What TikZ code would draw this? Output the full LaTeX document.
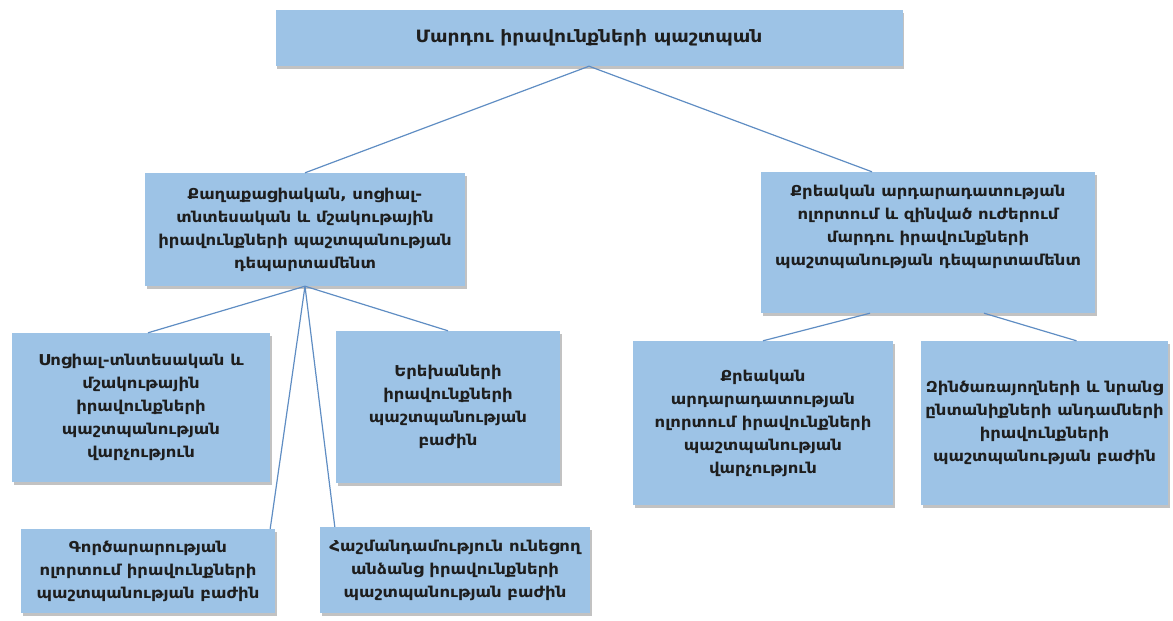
\documentclass[tikz,border=0pt]{standalone}
\usepackage{fontspec}
\setmainfont{DejaVu Sans}[FakeStretch=1.1]
\usepackage{xcolor}
\usetikzlibrary{positioning, shadows}
\definecolor{boxblue}{HTML}{9DC3E6}
\definecolor{linkblue}{HTML}{5F8DC3}
\definecolor{inkdark}{HTML}{1E1E1E}

\begin{document}
\begin{tikzpicture}[x=1pt,y=-1pt]
					\tikzstyle{box}=[rectangle, fill=boxblue, draw=none, align=center, text=inkdark, inner sep=3pt, font=\bfseries\fontsize{15}{23}\selectfont, drop shadow={shadow xshift=1.5pt, shadow yshift=-2.5pt, opacity=0.4, fill=black!60}]
					\tikzstyle{link}=[draw=linkblue, line width=1.2pt]
					\useasboundingbox (0,0) rectangle (1173,621);
					\node[box, minimum width=627pt, minimum height=56pt, font=\bfseries\fontsize{17}{20}\selectfont](head) at (589,38){Մարդու իրավունքների պաշտպան};
					\node[box, minimum width=320pt, minimum height=113pt](civil) at (305,229.5){Քաղաքացիական, սոցիալ-\\տնտեսական և մշակութային\\իրավունքների  պաշտպանության\\դեպարտամենտ};
					\node[box, minimum width=334pt, minimum height=141pt, text depth=34pt](crimdep) at (928,242.5){Քրեական արդարադատության\\ոլորտում և զինված ուժերում\\մարդու իրավունքների\\պաշտպանության դեպարտամենտ};
					\node[box, minimum width=258pt, minimum height=149pt](social) at (141,407.5){Սոցիալ-տնտեսական և\\մշակութային\\իրավունքների\\պաշտպանության\\վարչություն};
					\node[box, minimum width=224pt, minimum height=152pt](children) at (448,407){Երեխաների\\իրավունքների\\պաշտպանության\\բաժին};
					\node[box, minimum width=254pt, minimum height=84pt](business) at (148,571){Գործարարության\\ոլորտում  իրավունքների\\պաշտպանության բաժին};
					\node[box, minimum width=270pt, minimum height=86pt](disabled) at (455,570){Հաշմանդամություն ունեցող\\անձանց իրավունքների\\պաշտպանության բաժին};
					\node[box, minimum width=260pt, minimum height=164pt](justice) at (763,423){Քրեական\\արդարադատության\\ոլորտում իրավունքների\\պաշտպանության\\վարչություն};
					\node[box, minimum width=247pt, minimum height=164pt](military) at (1044.5,423){Զինծառայողների և նրանց\\ընտանիքների  անդամների\\իրավունքների\\պաշտպանության բաժին};
					\draw[link]
						(head.south) edge (civil.north)
						(head.south) edge ([xshift=-56pt]crimdep.north)
						(civil.south) edge ([xshift=7pt]social.north)
						(civil.south) edge (children.north)
						(civil.south) edge ([xshift=-5pt]business.north east)
						(civil.south) edge ([xshift=15pt]disabled.north west)
						([xshift=-58pt]crimdep.south) edge (justice.north)
						([xshift=56pt]crimdep.south) edge ([xshift=32pt]military.north);
				\end{tikzpicture}
\end{document}
